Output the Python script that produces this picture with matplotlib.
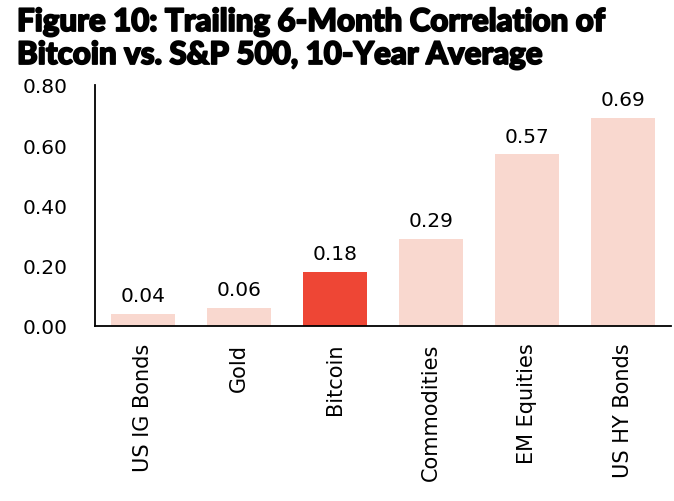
import numpy as np
import matplotlib.pyplot as plt
import matplotlib.patheffects as pe

categories = ['US IG Bonds', 'Gold', 'Bitcoin', 'Commodities', 'EM Equities', 'US HY Bonds']
values = [0.04, 0.06, 0.18, 0.29, 0.57, 0.69]
highlight = 'Bitcoin'
yticks = [0.0, 0.2, 0.4, 0.6, 0.8]
title_lines = ['Figure 10: Trailing 6-Month Correlation of',
               'Bitcoin vs. S&P 500, 10-Year Average']

plt.rcParams['font.family'] = ['DejaVu Sans']

fig = plt.figure(figsize=(6.74, 5.02), dpi=100)
ax = fig.add_axes([95 / 674, 1 - 327 / 502, 576 / 674, 241 / 502])

colors = ['#EE4635' if c == highlight else '#F9D8CF' for c in categories]
x = np.arange(len(categories))
ax.bar(x, values, width=0.67, color=colors)

for xi, v in zip(x, values):
    ax.text(xi, v + 0.042, f'{v:.2f}', ha='center', va='baseline', fontsize=14.5)

ax.set_xlim(-0.5, len(categories) - 0.5)
ax.set_ylim(0, 0.8)
ax.set_yticks(yticks)
ax.set_yticklabels([f'{t:.2f}' for t in yticks], fontsize=14.5)
ax.set_xticks(x)
ax.set_xticklabels(categories, rotation=90, fontsize=15)
ax.tick_params(length=0)
ax.tick_params(axis='x', pad=12)
ax.tick_params(axis='y', pad=20)

for s in ['top', 'right']:
    ax.spines[s].set_visible(False)
for s in ['left', 'bottom']:
    ax.spines[s].set_color('black')
    ax.spines[s].set_linewidth(1.3)

# 标题两行，按基线定位，描边加粗
heavy = [pe.withStroke(linewidth=1.3, foreground='black')]
fig.text(17 / 674, 1 - 32 / 502, title_lines[0], ha='left', va='baseline',
         fontsize=22.5, fontweight='black', family=['Lato', 'DejaVu Sans'],
         path_effects=heavy)
fig.text(17 / 674, 1 - 65 / 502, title_lines[1], ha='left', va='baseline',
         fontsize=22.5, fontweight='black', family=['Lato', 'DejaVu Sans'],
         path_effects=heavy)

fig.savefig('out.png', dpi=100)
